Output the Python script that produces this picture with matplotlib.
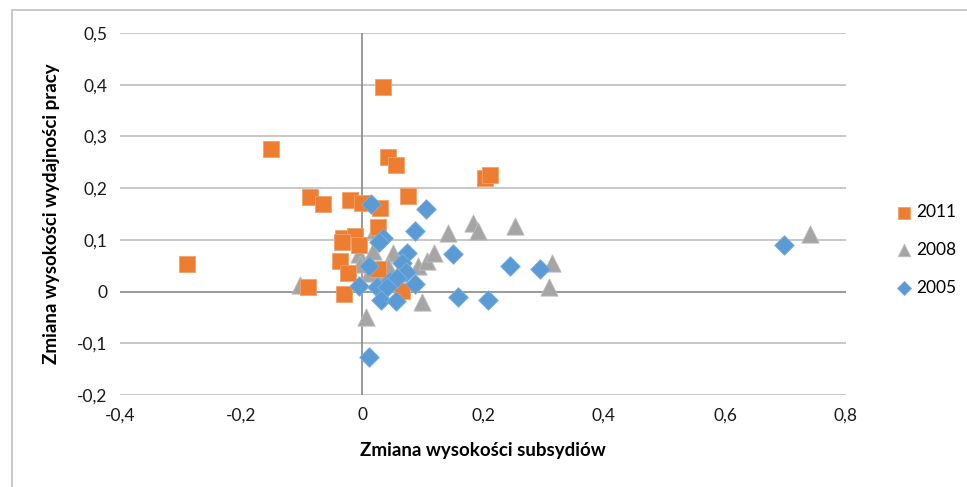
import numpy as np
import matplotlib.pyplot as plt
from matplotlib.patches import Rectangle

# 2011 - orange squares
x_2011 = [0.035, -0.290, -0.150, 0.043, 0.056, 0.203, 0.212, -0.086, -0.064, -0.020,
          0.000, 0.030, 0.076, 0.026, -0.031, -0.012, -0.033, -0.036, -0.023, -0.089,
          -0.030, 0.026, 0.066, -0.005]
y_2011 = [0.395, 0.053, 0.275, 0.261, 0.244, 0.220, 0.226, 0.182, 0.170, 0.178,
          0.172, 0.162, 0.184, 0.124, 0.104, 0.108, 0.095, 0.060, 0.035, 0.008,
          -0.004, 0.044, 0.002, 0.090]

# 2008 - gray triangles
x_2008 = [0.021, -0.005, 0.018, 0.051, -0.003, 0.043, 0.012, 0.030, 0.092, 0.107,
          0.119, 0.142, 0.183, 0.192, 0.253, 0.314, 0.309, 0.099, 0.007, -0.102,
          0.740, 0.060, 0.075]
y_2008 = [0.120, 0.073, 0.079, 0.075, 0.054, 0.050, 0.035, 0.028, 0.050, 0.060,
          0.075, 0.114, 0.133, 0.118, 0.126, 0.056, 0.008, -0.021, -0.050, 0.012,
          0.112, 0.035, 0.045]

# 2005 - blue diamonds
x_2005 = [0.015, 0.106, 0.088, 0.035, 0.028, 0.074, 0.150, 0.012, 0.066, 0.073,
          -0.005, 0.088, 0.046, 0.058, 0.025, 0.041, 0.031, 0.056, 0.159, 0.208,
          0.245, 0.294, 0.012, 0.698]
y_2005 = [0.170, 0.160, 0.118, 0.104, 0.095, 0.075, 0.073, 0.049, 0.056, 0.037,
          0.010, 0.014, 0.021, 0.027, 0.008, 0.008, -0.017, -0.019, -0.010, -0.016,
          0.050, 0.044, -0.126, 0.091]

xticks = [-0.4, -0.2, 0, 0.2, 0.4, 0.6, 0.8]
yticks = [-0.2, -0.1, 0, 0.1, 0.2, 0.3, 0.4, 0.5]

plt.rcParams['font.family'] = ['Lato', 'DejaVu Sans']

fig = plt.figure(figsize=(9.67, 4.87), dpi=100)
fig.patches.append(Rectangle((12 / 967, -0.1), 1.1, 1.1 - 10 / 487,
                             transform=fig.transFigure, fill=False,
                             edgecolor='#BFBFBF', linewidth=1.2))
ax = fig.add_axes([120 / 967, 1 - 395 / 487, 726 / 967, 362 / 487])

ax.set_xlim(-0.4, 0.8)
ax.set_ylim(-0.2, 0.5)
for t in yticks:
    if t != 0:
        ax.axhline(t, color='#BFBFBF', linewidth=1.2, zorder=0)
ax.axhline(0, color='#898989', linewidth=1.2, zorder=1)
ax.axvline(0, color='#898989', linewidth=1.2, zorder=1)
for s in ax.spines.values():
    s.set_visible(False)

ax.scatter(x_2005, y_2005, marker='D', s=100, color='#5B9BD5',
           edgecolors='#7FB0DD', linewidths=0.6, zorder=3, label='2005')
ax.scatter(x_2008, y_2008, marker='^', s=155, color='#A5A5A5',
           edgecolors='#BDBDBD', linewidths=0.6, zorder=2, label='2008')
ax.scatter(x_2011, y_2011, marker='s', s=125, color='#ED7D31',
           edgecolors='#F2A06A', linewidths=0.6, zorder=2, label='2011')

ax.set_xticks(xticks)
ax.set_xticklabels([('%g' % v).replace('.', ',') for v in xticks])
ax.set_yticks(yticks)
ax.set_yticklabels([('%g' % v).replace('.', ',') for v in yticks])
ax.tick_params(length=0, labelsize=12.5, colors='#1a1a1a', pad=9)

ax.set_xlabel('Zmiana wysokości subsydiów', fontsize=13.5, fontweight='bold',
              labelpad=13)
ax.set_ylabel('Zmiana wysokości wydajności pracy', fontsize=13.5,
              fontweight='bold', labelpad=12)

h, l = ax.get_legend_handles_labels()
order = [2, 1, 0]
leg = fig.legend([h[i] for i in order], [l[i] for i in order],
                 loc='center left', bbox_to_anchor=(880 / 967, 1 - 250 / 487),
                 frameon=False, fontsize=12.5, markerscale=0.72,
                 handlelength=1.0, handletextpad=0.2, labelspacing=1.25)

fig.savefig('out.png', dpi=100)
